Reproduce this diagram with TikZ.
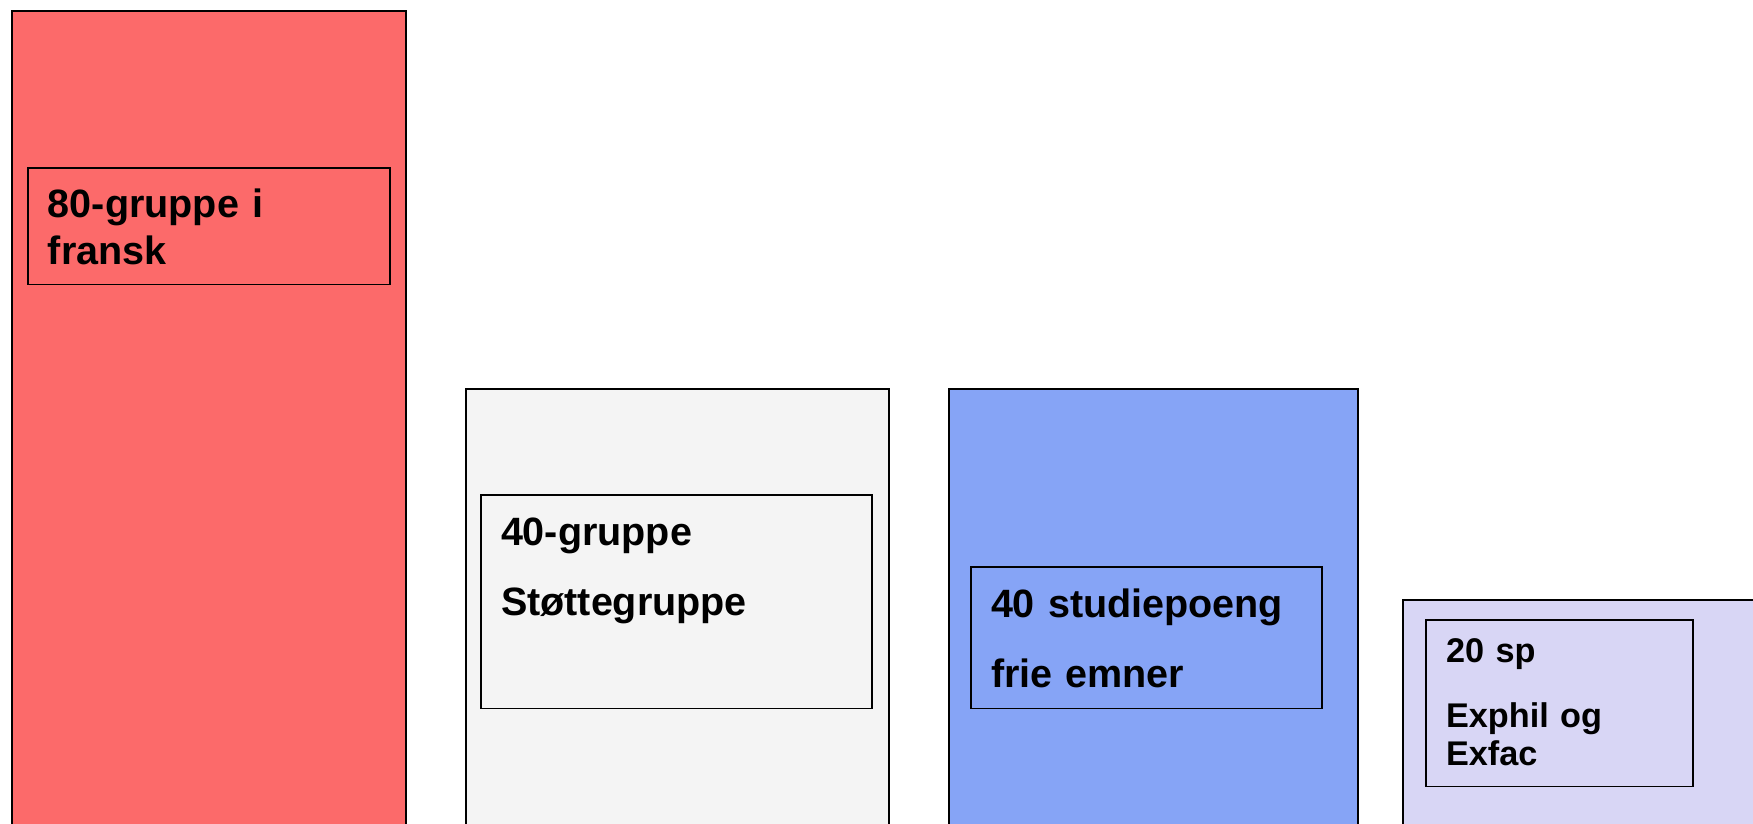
\documentclass[tikz,border=0pt]{standalone}
\usepackage{fontspec}
\setmainfont{Liberation Sans}
\usetikzlibrary{positioning}
\definecolor{frred}{RGB}{252,106,106}
\definecolor{stgrey}{RGB}{244,244,244}
\definecolor{feblue}{RGB}{134,164,246}
\definecolor{exlilac}{RGB}{216,214,245}
\tikzstyle{column} = [rectangle, anchor=north west, outer sep=0pt, minimum height=18cm, draw=black, line width=1.1pt]
\tikzstyle{label} = [rectangle, anchor=north west, outer sep=0pt, inner xsep=0.4cm, inner ysep=0pt, align=left, draw=black, line width=1pt, font=\bfseries\fontsize{22.5}{27}\selectfont]
\tikzstyle{small} = [font=\bfseries\fontsize{19.5}{22}\selectfont]

\begin{document}
\begin{tikzpicture} [x=0.02cm, y=-0.02cm]
        \path[use as bounding box, clip] (0,0) rectangle (1753,823);

        \node (fransk) [column, fill=frred, minimum width=7.88cm] at (12,11) {};
        \node (stotte) [column, fill=stgrey, minimum width=8.47cm] at (466,389) {};
        \node (frie) [column, fill=feblue, minimum width=8.18cm] at (949,389) {};
        \node (exphil) [column, fill=exlilac, minimum width=8cm] at (1403,600) {};

        \node (fransklabel) [label, text width=6.44cm, text height=0.98cm, text depth=1.35cm] at (28,168) {80-gruppe i\\fransk};
        \node (stottelabel) [label, text width=7.02cm, text height=1cm, text depth=3.27cm] at (481,495) {40-gruppe\\[13.4pt]Støttegruppe};
        \node (frielabel) [label, text width=6.22cm, text height=1cm, text depth=1.83cm] at (971,567) {40 studiepoeng\\[13.4pt]frie emner};
        \node (exphillabel) [label, small, text width=4.54cm, text height=0.84cm, text depth=2.49cm] at (1426,620) {20 sp\\[15pt]Exphil og\\Exfac};
    \end{tikzpicture}
\end{document}
